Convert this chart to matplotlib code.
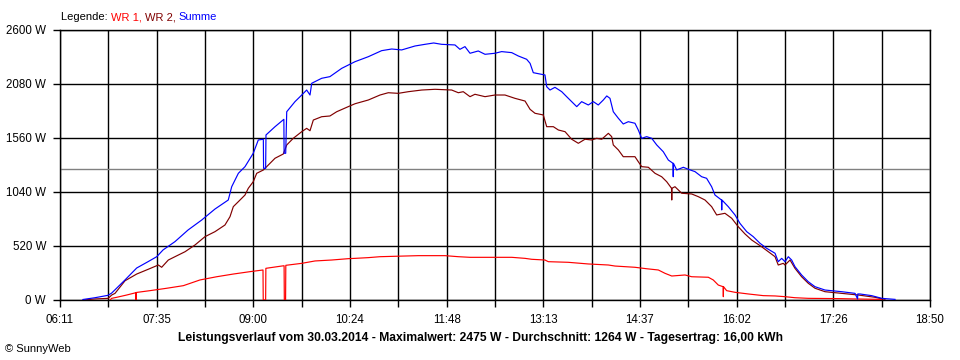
import numpy as np
import matplotlib
matplotlib.use("Agg")
import matplotlib.pyplot as plt

plt.rcParams['font.family'] = ['Liberation Sans', 'DejaVu Sans']

# ---- data (time in minutes since midnight, power in W) ----
x_tick_labels = ["06:11", "07:35", "09:00", "10:24", "11:48", "13:13",
                 "14:37", "16:02", "17:26", "18:50"]
y_ticks = [0, 520, 1040, 1560, 2080, 2600]
average_w = 1264

wr1_t = [414.6, 416.1, 420.5, 429.2, 437.1, 437.3, 437.5, 438.6, 449.5, 464.1,
         478.6, 493.1, 507.7, 522.2, 536.8, 548.1, 548.3, 550.4, 550.6, 564.4,
         566.5, 566.7, 567.8, 568.0, 581.9, 593.5, 608.0, 622.5, 628.4, 640.0,
         650.2, 683.6, 706.9, 718.5, 728.7, 750.5, 765.1, 776.7, 782.5, 794.1,
         797.0, 814.4, 831.9, 849.4, 855.2, 872.6, 882.8, 893.0, 898.8, 904.7,
         916.3, 922.1, 936.6, 940.9, 945.3, 949.5, 949.7, 949.9, 952.6, 959.9,
         971.5, 984.6, 994.8, 1003.5, 1012.2, 1023.8, 1052.9, 1064.6, 1087.9]
wr1_w = [0, 16, 26, 48, 70, 0, 72, 74, 90, 113,
         138, 193, 224, 250, 273, 289, 0, 0, 305, 327,
         330, 0, 0, 334, 353, 376, 385, 398, 401, 408,
         417, 427, 427, 417, 411, 411, 411, 401, 392, 385,
         369, 363, 347, 337, 327, 315, 301, 289, 257, 231,
         241, 224, 219, 193, 144, 128, 32, 128, 90, 74,
         58, 42, 39, 32, 22, 16, 13, 10, 6]

wr2_t = [391.1, 401.5, 413.1, 416.1, 419.0, 427.7, 437.9, 448.0, 456.8, 459.7,
         465.5, 471.3, 480.1, 488.8, 497.5, 506.2, 514.9, 519.3, 522.2, 526.6,
         532.4, 535.3, 539.6, 542.6, 548.4, 551.3, 558.6, 565.8, 568.8, 574.5,
         581.9, 586.2, 589.1, 592.0, 599.3, 606.5, 612.4, 622.5, 628.4, 640.0,
         650.2, 657.4, 666.1, 674.9, 686.6, 698.2, 712.7, 718.5, 722.8, 728.7,
         733.0, 741.8, 750.5, 759.2, 767.9, 776.7, 781.1, 785.4, 792.6, 795.6,
         801.4, 805.8, 811.6, 817.4, 823.2, 829.0, 834.9, 839.2, 843.6, 849.4,
         852.3, 853.7, 858.1, 862.4, 866.8, 872.6, 875.5, 878.5, 884.3, 890.1,
         895.9, 900.3, 904.5, 904.7, 904.9, 907.5, 913.4, 922.1, 927.9, 933.7,
         939.5, 943.9, 951.1, 957.0, 962.7, 968.6, 974.4, 983.1, 994.8, 997.6,
         1002.0, 1003.5, 1007.9, 1012.2, 1018.0, 1023.8, 1029.7, 1038.4, 1052.9, 1067.4,
         1082.0, 1090.7]
wr2_w = [0, 10, 16, 48, 64, 185, 250, 296, 337, 315,
         385, 417, 465, 530, 610, 658, 722, 802, 899, 947,
         1011, 1076, 1139, 1220, 1252, 1284, 1365, 1406, 1493, 1557,
         1621, 1653, 1630, 1733, 1765, 1772, 1813, 1862, 1890, 1926,
         1974, 1996, 1990, 2006, 2022, 2029, 2022, 1996, 2006, 1958,
         1981, 1958, 1974, 1974, 1942, 1916, 1836, 1798, 1782, 1669,
         1669, 1637, 1621, 1548, 1509, 1548, 1541, 1557, 1548, 1605,
         1573, 1493, 1445, 1380, 1380, 1380, 1332, 1284, 1278, 1220,
         1187, 1139, 1076, 963, 1076, 1091, 1028, 1021, 995, 963,
         899, 819, 835, 787, 706, 636, 578, 513, 417, 337,
         353, 337, 385, 305, 224, 161, 113, 80, 64, 48,
         26, 6]

summe_t = [391.1, 401.5, 412.9, 416.1, 427.7, 437.9, 447.8, 455.4, 460.9, 471.3,
           482.7, 494.6, 506.2, 517.8, 520.8, 526.6, 532.4, 539.6, 544.0, 548.4,
           548.6, 550.4, 550.7, 558.6, 566.3, 566.5, 567.9, 568.8, 576.0, 581.9,
           586.2, 589.1, 590.6, 599.3, 606.5, 616.8, 628.4, 640.0, 651.6, 660.4,
           669.1, 680.7, 689.4, 697.0, 704.0, 715.6, 719.9, 724.3, 728.7, 735.9,
           741.8, 750.5, 756.3, 765.1, 770.8, 778.1, 781.1, 783.9, 791.2, 794.1,
           795.6, 798.5, 802.8, 808.7, 813.0, 817.4, 821.8, 826.1, 831.9, 836.3,
           840.6, 845.0, 848.0, 850.8, 853.7, 858.1, 862.4, 866.8, 872.6, 875.5,
           878.5, 882.8, 887.2, 891.6, 897.3, 901.7, 905.8, 906.0, 906.2, 909.0,
           914.8, 919.1, 925.0, 930.8, 935.1, 939.5, 942.4, 948.1, 948.3, 948.5,
           954.0, 959.9, 964.2, 970.1, 975.8, 981.7, 987.5, 994.8, 997.6, 1000.6,
           1003.5, 1006.4, 1009.3, 1012.2, 1018.0, 1023.8, 1029.7, 1038.4, 1052.9, 1064.6,
           1066.8, 1067.0, 1068.9, 1079.1, 1087.9, 1099.5]
summe_w = [5, 22, 45, 67, 193, 308, 369, 417, 482, 562,
           674, 770, 876, 963, 1091, 1220, 1284, 1413, 1541, 1548,
           1268, 1268, 1589, 1669, 1740, 1413, 1413, 1813, 1910, 1974,
           2022, 1974, 2087, 2135, 2151, 2231, 2295, 2343, 2401, 2417,
           2408, 2446, 2462, 2475, 2462, 2456, 2414, 2440, 2376, 2398,
           2366, 2376, 2392, 2382, 2350, 2318, 2279, 2189, 2173, 2167,
           2054, 2022, 2048, 2006, 1958, 1910, 1862, 1910, 1878, 1910,
           1878, 1926, 1965, 1942, 1813, 1750, 1695, 1717, 1702, 1637,
           1557, 1573, 1557, 1493, 1428, 1348, 1316, 1187, 1316, 1252,
           1278, 1259, 1236, 1187, 1172, 1091, 1011, 963, 867, 963,
           899, 819, 738, 658, 610, 546, 498, 450, 369, 401,
           369, 417, 385, 321, 241, 176, 128, 96, 80, 64,
           10, 58, 58, 42, 16, 6]

# ---- figure ----
W, H = 960, 360
fig = plt.figure(figsize=(W / 100, H / 100), dpi=100)
fig.patch.set_facecolor('white')
ax = fig.add_axes([60 / W, 1 - 300 / H, 870 / W, 270 / H])

t_start = 6 * 60 + 11
t_end = 18 * 60 + 50
grid_x = np.linspace(t_start, t_end, 19)

ax.set_xlim(t_start, t_end)
ax.set_ylim(0, 2600)

ax.set_xticks(grid_x)
labels = []
for i in range(len(grid_x)):
    labels.append(x_tick_labels[i // 2] if i % 2 == 0 else "")
ax.set_xticklabels(labels)
ax.set_yticks(y_ticks)
ax.set_yticklabels([f"{v} W" for v in y_ticks])

ax.tick_params(axis='both', direction='out', length=5, width=1, colors='black',
               labelsize=8.3)
ax.tick_params(axis='x', pad=5)
ax.tick_params(axis='y', pad=5)

ax.grid(True, color='black', linewidth=1.0, zorder=1)
ax.set_axisbelow(True)
for s in ax.spines.values():
    s.set_color('black')
    s.set_linewidth(1.0)

ax.axhline(average_w, color='#808080', linewidth=1.0, zorder=2)

ax.plot(wr1_t, wr1_w, color='#FF0000', linewidth=0.85, zorder=3)
ax.plot(wr2_t, wr2_w, color='#800000', linewidth=0.85, zorder=4)
ax.plot(summe_t, summe_w, color='#0000FF', linewidth=0.85, zorder=5)

# legend as coloured text pieces
fig.canvas.draw()
renderer = fig.canvas.get_renderer()
x = 61 / W
y = 1 - 17 / H
for txt, col in [("Legende: ", 'black'), ("WR 1, ", '#FF0000'),
                 ("WR 2, ", '#800000'), ("Summe", '#0000FF')]:
    t = fig.text(x, y, txt, color=col, fontsize=8, va='center', ha='left')
    bb = t.get_window_extent(renderer=renderer)
    x = bb.x1 / W

fig.text(480 / W, 1 - 337.5 / H,
         "Leistungsverlauf vom 30.03.2014 - Maximalwert: 2475 W - "
         "Durchschnitt: 1264 W - Tagesertrag: 16,00 kWh",
         fontsize=8.75, fontweight='bold', ha='center', va='center')
fig.text(5 / W, 1 - 348.5 / H, "© SunnyWeb", fontsize=8, ha='left', va='center')

fig.savefig("out.png", dpi=100, facecolor='white')
